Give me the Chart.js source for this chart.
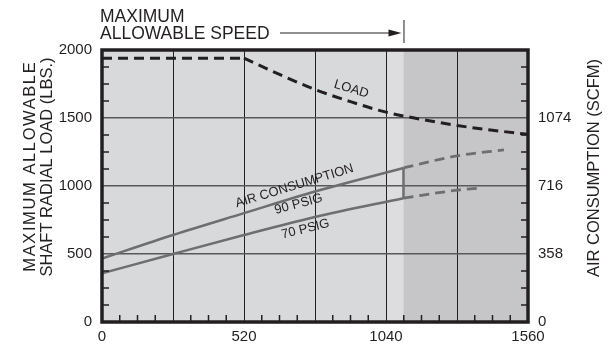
<!DOCTYPE html>
<html><head><meta charset="utf-8">
<script src="https://cdn.jsdelivr.net/npm/chart.js@4.4.1/dist/chart.umd.min.js"></script>
<style>html,body{margin:0;padding:0;background:#fff;}#wrap{width:611px;height:352px;}</style>
</head><body><div id="wrap"><canvas id="c" width="611" height="352"></canvas></div>
<script>
// ---- data ----
const speedTicks = [0, 520, 1040, 1560];
const loadTicks = [0, 500, 1000, 1500, 2000];
const scfmTicks = [0, 358, 716, 1074];
const maxSpeed = 1104;

const loadFlatX = [0, 520];
const loadFlatY = [1940, 1940];
const loadCurveX = [520, 650, 780, 910, 1040, 1170, 1300, 1430, 1560];
const loadCurveY = [1940, 1820, 1710, 1620, 1543, 1490, 1445, 1410, 1380];

const air90X = [0, 260, 520, 780, 1104];
const air90Y = [334, 458, 573, 687, 811];
const air90ExtX = [1104, 1300, 1472];
const air90ExtY = [811, 875, 906];
const air70X = [0, 260, 520, 780, 1104];
const air70Y = [256, 358, 458, 553, 652];
const air70ExtX = [1104, 1300, 1373];
const air70ExtY = [652, 694, 704];
const linkX = [1104, 1104];
const linkY = [652, 811];

const zip = (xs, ys) => xs.map((x, i) => ({x: x, y: ys[i]}));
const INK = '#231f20';
const GRAYLINE = '#6d6e70';
const FONT = '"Liberation Sans", Arial, sans-serif';

const decor = {
  id: 'decor',
  beforeDraw(chart) {
    const {ctx, chartArea: a, scales: {x}} = chart;
    const xm = x.getPixelForValue(maxSpeed);
    const x1040 = x.getPixelForValue(1040);
    ctx.save();
    ctx.fillStyle = '#d8d9db';
    ctx.fillRect(a.left, a.top, xm - a.left, a.bottom - a.top);
    ctx.fillStyle = '#dddddf';
    ctx.fillRect(x1040, a.top, xm - x1040, a.bottom - a.top);
    ctx.fillStyle = '#c6c6c8';
    ctx.fillRect(xm, a.top, a.right - xm, a.bottom - a.top);
    ctx.restore();
  },
  afterDatasetsDraw(chart) {
    const {ctx, chartArea: a, scales: {x, y, y2}} = chart;
    ctx.save();
    // minor ticks
    ctx.strokeStyle = INK; ctx.lineWidth = 1.5;
    ctx.beginPath();
    for (let v = 125; v < 2000; v += 125) {
      if (v % 500 === 0) continue;
      const py = y.getPixelForValue(v);
      ctx.moveTo(a.left, py); ctx.lineTo(a.left + 7, py);
    }
    for (let v = 89.5; v < 1432; v += 89.5) {
      if (Math.abs(v % 358) < 0.01) continue;
      const py = y2.getPixelForValue(v);
      ctx.moveTo(a.right, py); ctx.lineTo(a.right - 7, py);
    }
    for (let v = 65; v < 1560; v += 65) {
      if (v % 260 === 0) continue;
      const px = x.getPixelForValue(v);
      ctx.moveTo(px, a.bottom); ctx.lineTo(px, a.bottom - 7);
    }
    ctx.stroke();
    // frame
    ctx.lineWidth = 3.5;
    ctx.strokeRect(a.left, a.top, a.right - a.left, a.bottom - a.top);

    // top annotation
    const xm = x.getPixelForValue(maxSpeed);
    ctx.fillStyle = INK;
    ctx.font = '17.5px ' + FONT;
    ctx.textAlign = 'left'; ctx.textBaseline = 'alphabetic';
    ctx.fillText('MAXIMUM', 100, 22);
    ctx.fillText('ALLOWABLE SPEED', 100, 39);
    ctx.lineWidth = 1;
    ctx.beginPath();
    ctx.moveTo(280, 33); ctx.lineTo(xm - 12, 33);
    ctx.moveTo(xm + 0.5, 20); ctx.lineTo(xm + 0.5, 43);
    ctx.stroke();
    ctx.beginPath();
    ctx.moveTo(xm - 2, 33); ctx.lineTo(xm - 15, 29.5); ctx.lineTo(xm - 15, 36.5); ctx.closePath();
    ctx.fill();

    // curve labels
    const lbl = (t, vx, vy, deg, size) => {
      ctx.save();
      ctx.translate(x.getPixelForValue(vx), y.getPixelForValue(vy));
      ctx.rotate(deg * Math.PI / 180);
      ctx.font = size + 'px ' + FONT;
      ctx.textAlign = 'center'; ctx.textBaseline = 'middle';
      ctx.fillText(t, 0, 0);
      ctx.restore();
    };
    lbl('LOAD', 913, 1712, 17, 13);
    lbl('AIR CONSUMPTION', 705, 1000, -17, 13);
    lbl('90 PSIG', 720, 867, -15, 13);
    lbl('70 PSIG', 745, 683, -14, 13);

    // axis titles
    const vt = (t, bx, cy, size, spacing) => {
      ctx.save();
      ctx.font = size + 'px ' + FONT;
      ctx.letterSpacing = spacing + 'px';
      ctx.textAlign = 'center'; ctx.textBaseline = 'alphabetic';
      ctx.translate(bx, cy);
      ctx.rotate(-Math.PI / 2);
      ctx.fillText(t, spacing / 2, 0);
      ctx.restore();
    };
    vt('MAXIMUM ALLOWABLE', 35, 167, 16.5, 1.6);
    vt('SHAFT RADIAL LOAD (LBS.)', 52, 167, 16.5, 0);
    vt('AIR CONSUMPTION (SCFM)', 599, 168, 16.5, 0);
    ctx.restore();
  }
};

new Chart(document.getElementById('c'), {
  type: 'line',
  data: {
    datasets: [
      {data: zip(loadFlatX, loadFlatY), yAxisID: 'y', borderColor: INK, borderWidth: 3, borderDash: [10, 6], pointRadius: 0},
      {data: zip(loadCurveX, loadCurveY), yAxisID: 'y', borderColor: INK, borderWidth: 3, borderDash: [10, 6], pointRadius: 0, tension: 0.4, cubicInterpolationMode: 'monotone'},
      {data: zip(air90X, air90Y), yAxisID: 'y2', borderColor: GRAYLINE, borderWidth: 2.5, pointRadius: 0, tension: 0.3, cubicInterpolationMode: 'monotone'},
      {data: zip(air70X, air70Y), yAxisID: 'y2', borderColor: GRAYLINE, borderWidth: 2.5, pointRadius: 0, tension: 0.3, cubicInterpolationMode: 'monotone'},
      {data: zip(linkX, linkY), yAxisID: 'y2', borderColor: GRAYLINE, borderWidth: 2.5, pointRadius: 0},
      {data: zip(air90ExtX, air90ExtY), yAxisID: 'y2', borderColor: GRAYLINE, borderWidth: 2.8, borderDash: [10, 6], pointRadius: 0, tension: 0.3, cubicInterpolationMode: 'monotone'},
      {data: zip(air70ExtX, air70ExtY), yAxisID: 'y2', borderColor: GRAYLINE, borderWidth: 2.8, borderDash: [10, 6], pointRadius: 0, tension: 0.3, cubicInterpolationMode: 'monotone'}
    ]
  },
  options: {
    responsive: false, animation: false, devicePixelRatio: 1,
    layout: {padding: {top: 50, left: 0, right: 0, bottom: 0}},
    plugins: {legend: {display: false}, tooltip: {enabled: false}},
    scales: {
      x: {
        type: 'linear', min: 0, max: 1560,
        afterBuildTicks: s => { const t = []; for (let v = 0; v <= 1560; v += 260) t.push({value: v}); s.ticks = t; },
        ticks: {callback: v => speedTicks.includes(v) ? String(v) : '', color: INK, font: {family: FONT, size: 15}, padding: 6, maxRotation: 0, autoSkip: false},
        grid: {color: INK, lineWidth: 1, drawTicks: false},
        border: {display: false},
        afterFit: s => { s.height = 30; }
      },
      y: {
        position: 'left', min: 0, max: 2000,
        afterBuildTicks: s => { s.ticks = loadTicks.map(v => ({value: v})); },
        ticks: {callback: v => String(v), color: INK, font: {family: FONT, size: 15}, padding: 10},
        grid: {color: '#58595b', lineWidth: 1.5, drawTicks: false},
        border: {display: false},
        afterFit: s => { s.width = 102; }
      },
      y2: {
        position: 'right', min: 0, max: 1432,
        afterBuildTicks: s => { s.ticks = scfmTicks.map(v => ({value: v})); },
        ticks: {callback: v => String(v), color: INK, font: {family: FONT, size: 15}, padding: 10},
        grid: {display: false, drawTicks: false},
        border: {display: false},
        afterFit: s => { s.width = 83; }
      }
    }
  },
  plugins: [decor]
});
</script>
</body></html>
